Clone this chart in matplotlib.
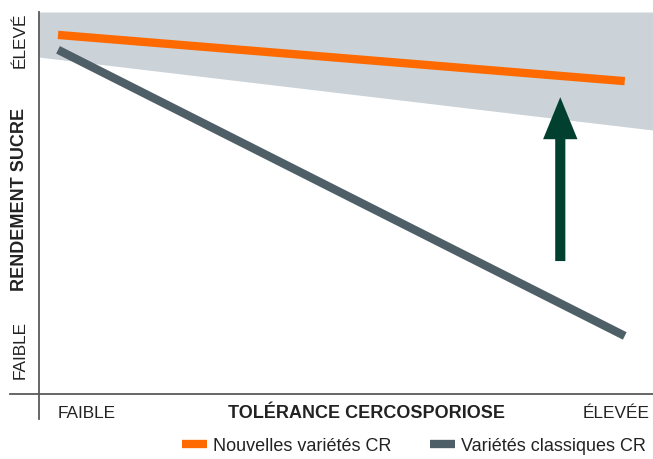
import matplotlib
matplotlib.use("Agg")
import matplotlib.pyplot as plt
from matplotlib.lines import Line2D
from matplotlib.patches import FancyArrow
import matplotlib.transforms as mtransforms

plt.rcParams['font.family'] = ['Liberation Sans', 'DejaVu Sans']

# Data (relative scale 0-100)
x_ends = [3.1, 95.4]
new_varieties = [94.0, 81.9]      # Nouvelles variétés CR
classic_varieties = [90.1, 15.2]  # Variétés classiques CR
zone_x = [0, 100]
zone_low = [88.2, 69.1]
zone_high = [100, 100]
arrow_x = 84.9
arrow_y = [34.8, 77.7]
x_tick_pos = [7.75, 94.0]
x_tick_labels = ["FAIBLE", "ÉLEVÉE"]
y_tick_pos = [11.8, 92.9]
y_tick_labels = ["FAIBLE", "ÉLEVÉ"]

ORANGE = "#ff6a00"
GRAY = "#4f5f67"
SHADE = "#cbd2d8"
GREEN = "#013f2f"
AXC = "#5a5a5a"

fig = plt.figure(figsize=(6.53, 4.60), dpi=100)
ax = fig.add_axes([39/653, 65/460, 614/653, 382/460])
ax.set_xlim(0, 100)
ax.set_ylim(0, 100)
for s in ax.spines.values():
    s.set_visible(False)

ax.fill_between(zone_x, zone_low, zone_high, color=SHADE, lw=0, zorder=1)
ax.plot(x_ends, classic_varieties, color=GRAY, lw=6, solid_capstyle='butt', zorder=3)
ax.plot(x_ends, new_varieties, color=ORANGE, lw=6, solid_capstyle='butt', zorder=3)

arr = FancyArrow(arrow_x, arrow_y[0], 0, arrow_y[1] - arrow_y[0], width=1.65,
                 head_width=5.6, head_length=11.0, length_includes_head=True,
                 color=GREEN, lw=0, zorder=4)
ax.add_patch(arr)

# Axis lines (extended beyond axes like the reference)
fig.add_artist(Line2D([39/653, 39/653], [1 - 420/460, 1 - 13/460], color=AXC, lw=1.3))
fig.add_artist(Line2D([10/653, 1.0], [1 - 395/460, 1 - 395/460], color=AXC, lw=1.3))

ax.set_xticks([])
ax.set_yticks([])
bx = mtransforms.blended_transform_factory(ax.transData, fig.transFigure)
for p, lab in zip(x_tick_pos, x_tick_labels):
    ax.text(p, 1 - 414/460, lab, transform=bx, ha='center', va='center',
            fontsize=12.4, color='#222222')
by = mtransforms.blended_transform_factory(fig.transFigure, ax.transData)
for p, lab in zip(y_tick_pos, y_tick_labels):
    ax.text(20/653, p, lab, transform=by, ha='center', va='center', rotation=90,
            fontsize=12.4, color='#222222')

fig.text(366/653, 1 - 414/460, "TOLÉRANCE CERCOSPORIOSE", ha='center', va='center',
         fontsize=13, fontweight='bold', color='#222222')
fig.text(20/653, 1 - 199/460, "RENDEMENT SUCRE", ha='center', va='center',
         rotation=90, fontsize=13, fontweight='bold', color='#222222')

handles = [Line2D([], [], color=ORANGE, lw=6, solid_capstyle='butt'),
           Line2D([], [], color=GRAY, lw=6, solid_capstyle='butt')]
fig.legend(handles, ["Nouvelles variétés CR", "Variétés classiques CR"],
           loc='center', bbox_to_anchor=(414/653, 1 - 447/460), ncol=2,
           frameon=False, fontsize=13, handlelength=1.4, handletextpad=0.33,
           columnspacing=2.1, labelcolor='#222222', borderpad=0, borderaxespad=0)

fig.savefig("out.png", dpi=100)
